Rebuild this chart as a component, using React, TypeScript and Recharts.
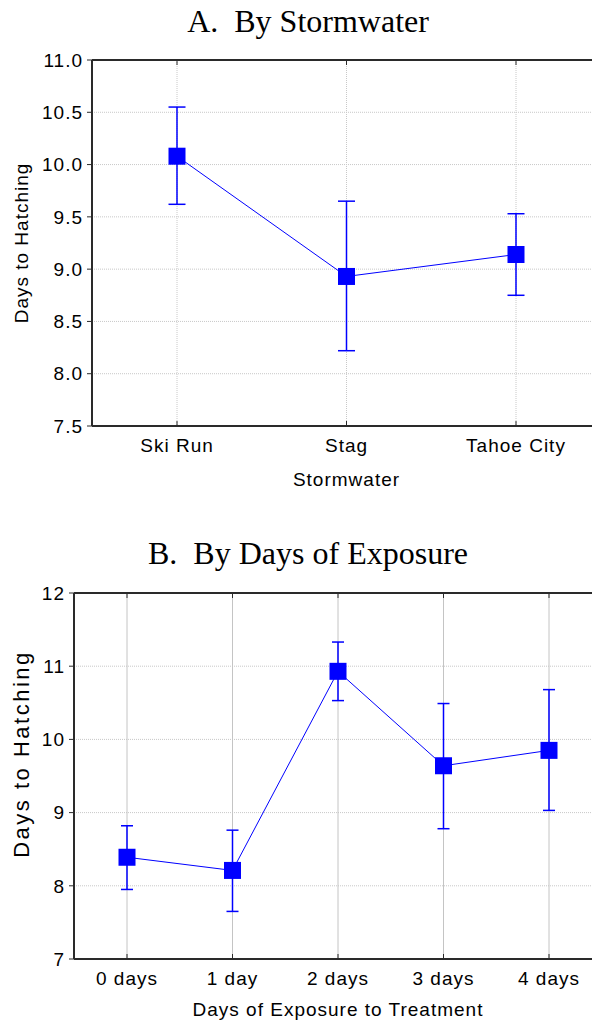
import { LineChart, Line, XAxis, YAxis, CartesianGrid, ErrorBar } from 'recharts'

// Panel A: days to hatching by stormwater source
const SITES = ['Ski Run', 'Stag', 'Tahoe City']
const SITE_MEAN = [10.08, 8.93, 9.14]
const SITE_LOW = [9.62, 8.22, 8.75]
const SITE_HIGH = [10.55, 9.65, 9.53]
const SITE_TICKS = [7.5, 8, 8.5, 9, 9.5, 10, 10.5, 11]

// Panel B: days to hatching by days of exposure
const DAYS = ['0 days', '1 day', '2 days', '3 days', '4 days']
const DAY_MEAN = [8.39, 8.21, 10.93, 9.64, 9.85]
const DAY_LOW = [7.95, 7.65, 10.53, 8.78, 9.03]
const DAY_HIGH = [8.82, 8.76, 11.33, 10.49, 10.68]
const DAY_TICKS = [7, 8, 9, 10, 11, 12]

const BLUE = '#0000FF'
const AXIS = '#2a2a2a'
const SANS = '"Liberation Sans", Arial, sans-serif'
const SERIF = '"Liberation Serif", "Times New Roman", serif'
const TEXT = { fontSize: 19, fill: '#000', fontFamily: SANS, letterSpacing: 1 }

function build(cats: string[], mean: number[], low: number[], high: number[]) {
  return cats.map((c, i) => ({
    cat: c,
    mean: mean[i],
    err: [+(mean[i] - low[i]).toFixed(3), +(high[i] - mean[i]).toFixed(3)],
  }))
}

const Square = (p: any) =>
  p.cx == null ? null : (
    <rect key={p.index} x={p.cx - 8.5} y={p.cy - 8.5} width={17} height={17} fill={BLUE} />
  )

interface PanelProps {
  data: any[]
  ticks: number[]
  fmt: (v: number) => string
  xLabel: string
  margin: { top: number; right: number; bottom: number; left: number }
  yWidth: number
  xHeight: number
  pad: number
  cap: number
  solidV: boolean
  labelOffset: number
  yLabelStyle: any
  yLabelShift: number
}

function Panel(p: PanelProps) {
  return (
    <LineChart width={640} height={500} data={p.data} margin={p.margin}>
      <CartesianGrid vertical={false} stroke="#c8c8c8" strokeDasharray="1 1" />
      <CartesianGrid
        horizontal={false}
        stroke={p.solidV ? '#c4c4c4' : '#c8c8c8'}
        strokeDasharray={p.solidV ? undefined : '1 1'}
      />
      <XAxis
        dataKey="cat"
        padding={{ left: p.pad, right: p.pad }}
        height={p.xHeight}
        interval={0}
        tick={TEXT}
        tickSize={-5}
        tickMargin={18}
        tickLine={{ stroke: AXIS }}
        axisLine={{ stroke: AXIS, strokeWidth: 2 }}
        label={{ value: p.xLabel, position: 'insideBottom', offset: p.labelOffset, style: TEXT }}
      />
      <XAxis
        xAxisId="top"
        orientation="top"
        dataKey="cat"
        padding={{ left: p.pad, right: p.pad }}
        height={1}
        interval={0}
        tick={() => <g />}
        tickSize={-5}
        tickLine={{ stroke: AXIS }}
        axisLine={{ stroke: AXIS, strokeWidth: 2 }}
      />
      <YAxis
        width={p.yWidth}
        domain={[p.ticks[0], p.ticks[p.ticks.length - 1]]}
        ticks={p.ticks}
        tickFormatter={p.fmt}
        tick={TEXT}
        tickSize={5}
        tickMargin={4}
        tickLine={{ stroke: AXIS }}
        axisLine={{ stroke: AXIS, strokeWidth: 2 }}
        label={{
          value: 'Days to Hatching', angle: -90, position: 'insideLeft', offset: 21,
          dy: p.yLabelShift,
          style: { ...p.yLabelStyle, textAnchor: 'middle' },
        }}
      />
      <Line
        dataKey="mean"
        stroke={BLUE}
        strokeWidth={1}
        dot={Square}
        activeDot={false}
        isAnimationActive={false}
      >
        <ErrorBar dataKey="err" width={p.cap} stroke={BLUE} strokeWidth={1.5} isAnimationActive={false} />
      </Line>
    </LineChart>
  )
}

export default function App() {
  const siteData = build(SITES, SITE_MEAN, SITE_LOW, SITE_HIGH)
  const dayData = build(DAYS, DAY_MEAN, DAY_LOW, DAY_HIGH)

  return (
    <div style={{
      position: 'absolute', left: 0, top: 0, width: 592, height: 1025,
      overflow: 'hidden', background: 'white',
    }}>
      <svg width={592} height={1025} style={{ position: 'absolute', left: 0, top: 0 }}>
        <text x={308} y={32} textAnchor="middle" fontFamily={SERIF} fontSize={32} fill="#000">
          A.{'\u00a0\u00a0'}By Stormwater
        </text>
        <text x={308} y={564} textAnchor="middle" fontFamily={SERIF} fontSize={32} fill="#000">
          B.{'\u00a0\u00a0'}By Days of Exposure
        </text>
      </svg>

      <div style={{ position: 'absolute', left: 0, top: 0 }}>
        <Panel
          data={siteData}
          ticks={SITE_TICKS}
          fmt={(v) => v.toFixed(1)}
          xLabel="Stormwater"
          margin={{ top: 59, right: 39, bottom: 0, left: 0 }}
          yWidth={92}
          xHeight={74}
          pad={85}
          cap={8.5}
          solidV={false}
          labelOffset={14}
          yLabelStyle={TEXT}
          yLabelShift={0}
        />
      </div>

      <div style={{ position: 'absolute', left: 0, top: 520 }}>
        <Panel
          data={dayData}
          ticks={DAY_TICKS}
          fmt={(v) => String(v)}
          xLabel="Days of Exposure to Treatment"
          margin={{ top: 72, right: 38, bottom: 0, left: 0 }}
          yWidth={74}
          xHeight={61}
          pad={53}
          cap={6}
          solidV={true}
          labelOffset={4}
          yLabelStyle={{ ...TEXT, fontSize: 22, letterSpacing: 2.5 }}
          yLabelShift={-22}
        />
      </div>
    </div>
  )
}
